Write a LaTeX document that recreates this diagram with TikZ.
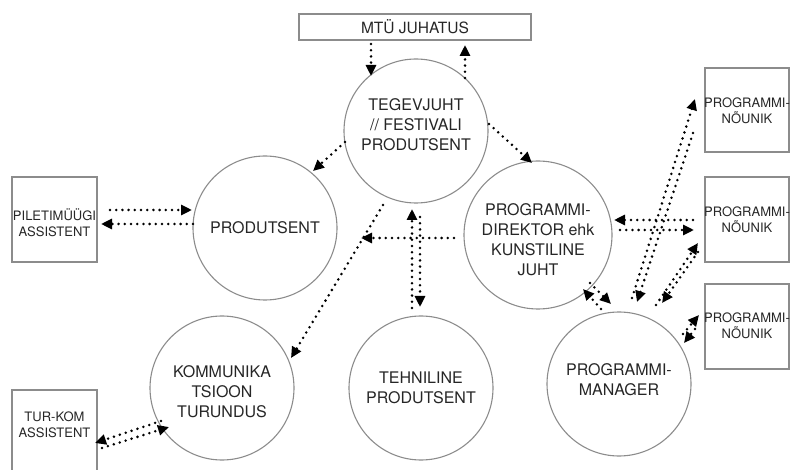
\documentclass[tikz,border=0pt]{standalone}
\usepackage{fontspec}
\setmainfont{TeX Gyre Heros}
\usetikzlibrary{arrows.meta}
\begin{document}
\begin{tikzpicture}[x=1pt,y=-1pt,
  circ/.style={circle,draw=black!45,line width=1.1pt,minimum size=144pt,inner sep=0pt,align=center,font=\fontsize{16}{20}\selectfont,text=black!85},
  ctext/.style={align=center,inner sep=0pt,font=\fontsize{16}{20}\selectfont,text=black!85},
  boxn/.style={rectangle,draw=black!45,line width=1.1pt,inner sep=0pt,align=center,font=\fontsize{13}{16.5}\selectfont,text=black!85},
  btext/.style={align=center,inner sep=0pt,font=\fontsize{13}{16.5}\selectfont,text=black!85},
  conn/.style={line width=2.8pt,line cap=round,dash pattern=on 0pt off 6.2pt,-{Triangle[length=11pt,width=10pt]}}
]
\useasboundingbox (0,0) rectangle (790,470);
% boxes
\node[boxn,minimum width=232pt,minimum height=26pt,font=\fontsize{15.5}{18}\selectfont] (mtu) at (415,27) {MTÜ JUHATUS};
\node[boxn,minimum width=85pt,minimum height=85pt] (pil) at (54.5,219.5) {};
\node[btext] (pilt) at (54.5,223) {PILETIMÜÜGI\\ASSISTENT};
\draw[draw=black!45,line width=1.1pt] (12,475) -- (12,390) -- (97,390) -- (97,475);
\node[btext] (tur) at (54.5,425) {TUR-KOM\\ASSISTENT};
\node[boxn,minimum width=84pt,minimum height=84pt] (pn1) at (747,110) {};
\node[boxn,minimum width=84pt,minimum height=85pt] (pn2) at (747,219.5) {};
\node[boxn,minimum width=84pt,minimum height=85pt] (pn3) at (747,326.5) {};
\node[btext] (t1) at (747,111) {PROGRAMMI-\\NÕUNIK};
\node[btext] (t2) at (747,220) {PROGRAMMI-\\NÕUNIK};
\node[btext] (t3) at (747,326) {PROGRAMMI-\\NÕUNIK};
% circles
\node[circ] (teg) at (416,131) {};
\node[ctext] (tegt) at (416,125) {TEGEVJUHT\\// FESTIVALI\\PRODUTSENT};
\node[circ] (prod) at (265,228) {PRODUTSENT};
\node[circ,minimum size=148pt] (dir) at (538,235) {};
\node[ctext] (dirt) at (538,240) {PROGRAMMI-\\DIREKTOR ehk\\KUNSTILINE\\JUHT};
\node[circ] (kom) at (222,388) {};
\node[ctext] (komt) at (222,392) {KOMMUNIKA\\TSIOON\\TURUNDUS};
\node[circ] (teh) at (421,388) {TEHNILINE\\PRODUTSENT};
\node[circ] (man) at (619,384) {};
\node[ctext] (mant) at (619,380) {PROGRAMMI-\\MANAGER};
% connector end points
\coordinate (a1s) at (371,44);  \coordinate (a1e) at (371,76);
\coordinate (a2s) at (465,78);  \coordinate (a2e) at (465,45);
\coordinate (a3s) at (345,142); \coordinate (a3e) at (313,171);
\coordinate (a4s) at (489,124); \coordinate (a4e) at (532,163);
\coordinate (a5s) at (110,210); \coordinate (a5e) at (192,210);
\coordinate (a6s) at (193,224); \coordinate (a6e) at (101,224);
\coordinate (a7s) at (383,205); \coordinate (a7e) at (291,358);
\coordinate (a8s) at (454,238); \coordinate (a8e) at (361,238);
\coordinate (a9s) at (412,308); \coordinate (a9e) at (412,209);
\coordinate (a10s) at (420,217); \coordinate (a10e) at (420,307);
\coordinate (a11s) at (693,220); \coordinate (a11e) at (614,220);
\coordinate (a12s) at (620,230); \coordinate (a12e) at (694,230);
\coordinate (a13s) at (632,298); \coordinate (a13e) at (695,99);
\coordinate (a14s) at (693,133); \coordinate (a14e) at (637,302);
\coordinate (a15s) at (656,305); \coordinate (a15e) at (698,243);
\coordinate (a16s) at (698,252); \coordinate (a16e) at (662,303);
\coordinate (a17s) at (601,309); \coordinate (a17e) at (583,289);
\coordinate (a18s) at (590,283); \coordinate (a18e) at (611,304);
\coordinate (a19s) at (683,334); \coordinate (a19e) at (699,315);
\coordinate (a20s) at (695,329); \coordinate (a20e) at (684,343);
\coordinate (a21s) at (102,448); \coordinate (a21e) at (169,427);
\coordinate (a22s) at (161,421); \coordinate (a22e) at (95,443);
% connectors
\foreach \i in {1,...,22} {\draw[conn] (a\i s) -- (a\i e);}
\end{tikzpicture}
\end{document}
